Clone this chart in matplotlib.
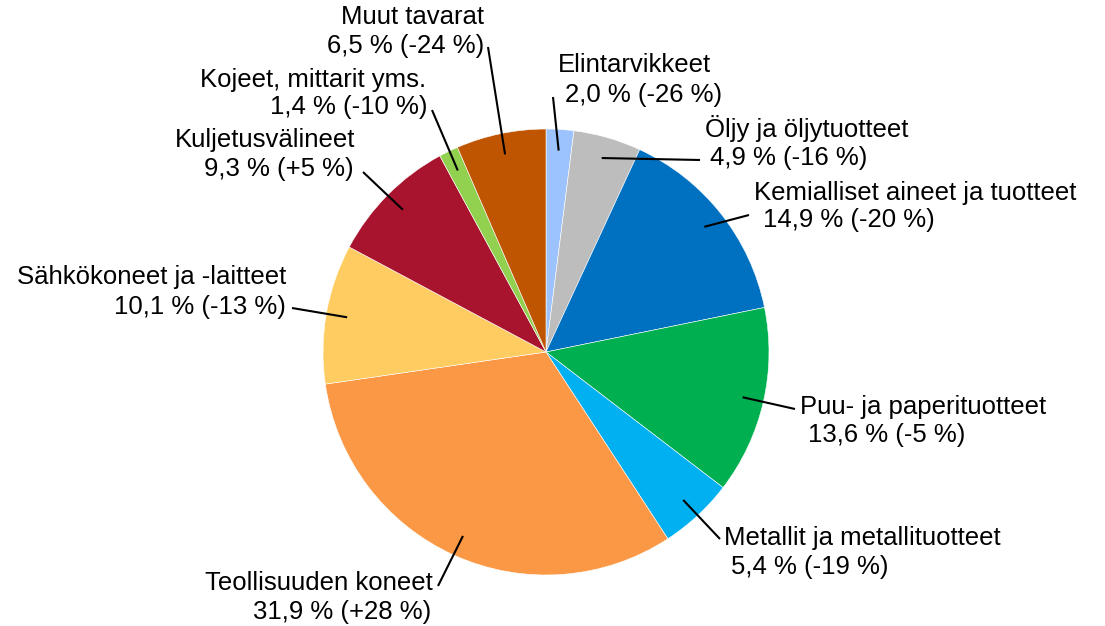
import numpy as np
import matplotlib.pyplot as plt

plt.rcParams["font.family"] = ["Liberation Sans", "DejaVu Sans"]

# share of exports (%) and change from previous year (%)
names = [
    "Elintarvikkeet",
    "Öljy ja öljytuotteet",
    "Kemialliset aineet ja tuotteet",
    "Puu- ja paperituotteet",
    "Metallit ja metallituotteet",
    "Teollisuuden koneet",
    "Sähkökoneet ja -laitteet",
    "Kuljetusvälineet",
    "Kojeet, mittarit yms.",
    "Muut tavarat",
]
shares = [2.0, 4.9, 14.9, 13.6, 5.4, 31.9, 10.1, 9.3, 1.4, 6.5]
changes = [-26, -16, -20, -5, -19, 28, -13, 5, -10, -24]

colors = ["#9DC3FF", "#BDBDBD", "#0070C0", "#00B050", "#00B0F0",
          "#FB9845", "#FFCC62", "#A8132D", "#92D050", "#BF5500"]

# label layout in pixel coords (y down): line1 x, line2 x, line1 y, line2 y, ha
label_x1 = [558, 705, 754, 800, 724, 433, 286, 355, 426, 484]
label_x2 = [565, 710, 763, 808, 731, 431, 286, 354, 427, 484]
label_y1 = [65, 128, 193, 407, 538, 583, 277, 140, 80, 17]
label_y2 = [95, 158, 220, 435, 567, 612, 307, 169, 107, 46]
label_ha = ["left"] * 5 + ["right"] * 5
# outer end of each leader line
lead_x = [553, 700, 749, 795, 720, 438, 292, 363, 432, 488]
lead_y = [97, 160, 215, 409, 539, 586, 308, 172, 110, 47]

W, H = 1105, 626
cx, cy, R = 546, 352, 223

fig = plt.figure(figsize=(W / 100, H / 100), dpi=100)
ax = fig.add_axes([0, 0, 1, 1])

# y axis runs downward, so counterclock=True draws clockwise on screen
ax.pie(shares, colors=colors, startangle=-90, counterclock=True,
       center=(cx, cy), radius=R,
       wedgeprops={"edgecolor": "white", "linewidth": 0.4})
ax.set_xlim(0, W)
ax.set_ylim(H, 0)
ax.set_aspect("equal")
ax.axis("off")

cum = np.cumsum([0] + shares[:-1])
for i, name in enumerate(names):
    mid = np.deg2rad((cum[i] + shares[i] / 2) / 100 * 360)
    px = cx + 0.905 * R * np.sin(mid)
    py = cy - 0.905 * R * np.cos(mid)
    ax.plot([px, lead_x[i]], [py, lead_y[i]], color="black", lw=1.5,
            solid_capstyle="butt")

    pct = f"{shares[i]:.1f}".replace(".", ",")
    line2 = f"{pct} % ({changes[i]:+d} %)"
    ax.text(label_x1[i], label_y1[i], name, ha=label_ha[i], va="center",
            fontsize=18.5)
    ax.text(label_x2[i], label_y2[i], line2, ha=label_ha[i], va="center",
            fontsize=18.5)

fig.savefig("out.png", dpi=100)
